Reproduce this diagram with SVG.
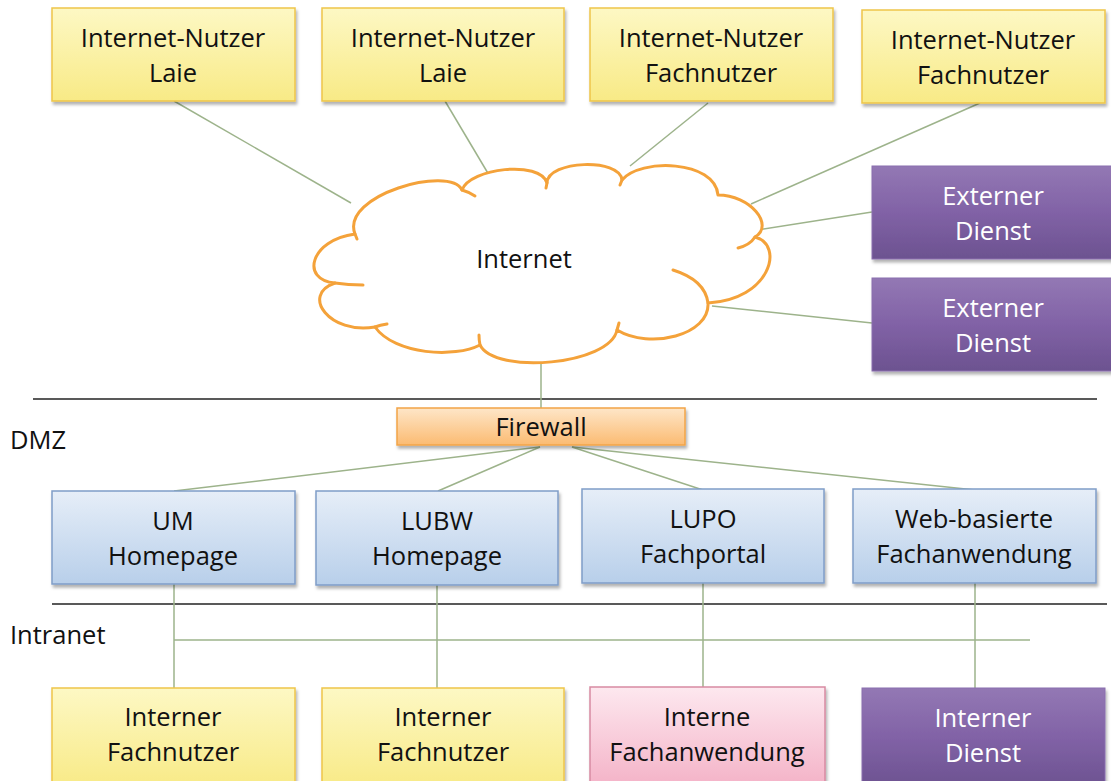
<svg xmlns="http://www.w3.org/2000/svg" width="1111" height="781" viewBox="0 0 1111 781">
<defs>
<linearGradient id="gY" x1="0" y1="0" x2="0" y2="1"><stop offset="0" stop-color="#fdf8c4"/><stop offset="1" stop-color="#f8ea86"/></linearGradient>
<linearGradient id="gP" x1="0" y1="0" x2="0" y2="1"><stop offset="0" stop-color="#9378b4"/><stop offset="0.5" stop-color="#8162a6"/><stop offset="1" stop-color="#6c5290"/></linearGradient>
<linearGradient id="gB" x1="0" y1="0" x2="0" y2="1"><stop offset="0" stop-color="#e6eef8"/><stop offset="1" stop-color="#b8cfea"/></linearGradient>
<linearGradient id="gR" x1="0" y1="0" x2="0" y2="1"><stop offset="0" stop-color="#fde8ef"/><stop offset="1" stop-color="#f4b2c7"/></linearGradient>
<linearGradient id="gO" x1="0" y1="0" x2="0" y2="1"><stop offset="0" stop-color="#fee6c8"/><stop offset="1" stop-color="#fbbb72"/></linearGradient>
<filter id="sh" x="-10%" y="-10%" width="125%" height="140%"><feDropShadow dx="1.5" dy="3" stdDeviation="1.8" flood-color="#000" flood-opacity="0.3"/></filter>
</defs>
<style>
.t{font-family:"Open Sans",Lato,"Liberation Sans",sans-serif;font-size:25.5px;fill:#111;text-anchor:middle}
.w{fill:#fff}
.l{font-family:"Open Sans",Lato,"Liberation Sans",sans-serif;font-size:25.5px;fill:#111}
.y{fill:url(#gY);stroke:#eec54a;stroke-width:1.5;filter:url(#sh)}
.p{fill:url(#gP);stroke:#8a6fae;stroke-width:1;filter:url(#sh)}
.b{fill:url(#gB);stroke:#7f9dc8;stroke-width:1.5;filter:url(#sh)}
.r{fill:url(#gR);stroke:#d78aa2;stroke-width:1.5;filter:url(#sh)}
.o{fill:url(#gO);stroke:#f2a447;stroke-width:1.5;filter:url(#sh)}
.c{stroke:#9db38b;stroke-width:1.5;fill:none}
.k{stroke:#222;stroke-width:1.5}
.cl{fill:none;stroke:#f4a23a;stroke-width:3;stroke-linecap:round}
</style>
<rect width="1111" height="781" fill="#fff"/>
<g id="separators">
<line class="k" x1="33" y1="399" x2="1097" y2="399"/>
<line class="k" x1="52" y1="604" x2="1107" y2="604"/>
<text class="l" x="10" y="449">DMZ</text>
<text class="l" x="10" y="644">Intranet</text>
</g>
<g id="connectors">
<line class="c" x1="174" y1="101" x2="351" y2="203"/>
<line class="c" x1="445" y1="101" x2="489" y2="175"/>
<line class="c" x1="708" y1="103" x2="630" y2="166"/>
<line class="c" x1="980" y1="103" x2="751" y2="204"/>
<line class="c" x1="872" y1="212" x2="751" y2="231"/>
<line class="c" x1="872" y1="323" x2="712" y2="306"/>
<line class="c" x1="541" y1="360" x2="541" y2="408"/>
<line class="c" x1="540" y1="447" x2="174" y2="491"/>
<line class="c" x1="540" y1="447" x2="438" y2="491"/>
<line class="c" x1="572" y1="447" x2="703" y2="490"/>
<line class="c" x1="572" y1="447" x2="975" y2="490"/>
<line class="c" x1="174" y1="584" x2="174" y2="688"/>
<line class="c" x1="437" y1="585" x2="437" y2="688"/>
<line class="c" x1="703" y1="583" x2="703" y2="688"/>
<line class="c" x1="975" y1="583" x2="975" y2="688"/>
<line class="c" x1="174" y1="640" x2="1030" y2="640"/>
</g>
<g id="internet">
<path d="M355,234 C340,195 450,165 462,190 C470,168 540,160 547,183 C548,160 620,158 622,180 C640,158 715,160 718,195 C750,195 775,225 755,237 C785,245 770,300 708,303 C710,335 650,350 617,330 C610,365 495,375 480,345 C455,358 395,355 375,327 C330,335 300,295 335,283 C300,280 310,240 355,234 Z" fill="#fff" stroke="#f4a23a" stroke-width="3" stroke-linejoin="round"/>
<path class="cl" d="M462,190 Q469,192 475,196"/>
<path class="cl" d="M547,183 L546,188"/>
<path class="cl" d="M622,180 L620,185"/>
<path class="cl" d="M755,237 Q750,245 738,248"/>
<path class="cl" d="M673,270 Q705,280 708,303"/>
<path class="cl" d="M617,330 L619,323"/>
<path class="cl" d="M480,345 Q479,340 479,335"/>
<path class="cl" d="M375,327 Q380,325 387,324"/>
<path class="cl" d="M335,283 Q348,285 363,285"/>
<path class="cl" d="M355,234 L357,239"/>
<text class="t" x="524" y="268">Internet</text>
</g>
<g id="nutzer1"><rect class="y" x="52" y="8" width="243" height="93"/><text class="t" x="173" y="47">Internet-Nutzer</text><text class="t" x="173" y="82">Laie</text></g>
<g id="nutzer2"><rect class="y" x="322" y="8" width="242" height="93"/><text class="t" x="443" y="47">Internet-Nutzer</text><text class="t" x="443" y="82">Laie</text></g>
<g id="nutzer3"><rect class="y" x="590" y="8" width="243" height="93"/><text class="t" x="711" y="47">Internet-Nutzer</text><text class="t" x="711" y="82">Fachnutzer</text></g>
<g id="nutzer4"><rect class="y" x="862" y="10" width="243" height="93"/><text class="t" x="983" y="49">Internet-Nutzer</text><text class="t" x="983" y="84">Fachnutzer</text></g>
<g id="extern1"><rect class="p" x="872" y="166" width="245" height="93"/><text class="t w" x="993" y="205">Externer</text><text class="t w" x="993" y="240">Dienst</text></g>
<g id="extern2"><rect class="p" x="872" y="278" width="245" height="93"/><text class="t w" x="993" y="317">Externer</text><text class="t w" x="993" y="352">Dienst</text></g>
<g id="firewall"><rect class="o" x="397" y="408" width="288" height="37"/><text class="t" x="541" y="436">Firewall</text></g>
<g id="um"><rect class="b" x="52" y="491" width="243" height="93"/><text class="t" x="173" y="530">UM</text><text class="t" x="173" y="565">Homepage</text></g>
<g id="lubw"><rect class="b" x="316" y="491" width="242" height="94"/><text class="t" x="437" y="530">LUBW</text><text class="t" x="437" y="565">Homepage</text></g>
<g id="lupo"><rect class="b" x="582" y="489" width="242" height="94"/><text class="t" x="703" y="528">LUPO</text><text class="t" x="703" y="563">Fachportal</text></g>
<g id="web"><rect class="b" x="853" y="489" width="243" height="94"/><text class="t" x="974" y="528">Web-basierte</text><text class="t" x="974" y="563">Fachanwendung</text></g>
<g id="intern1"><rect class="y" x="52" y="688" width="243" height="100"/><text class="t" x="173" y="726">Interner</text><text class="t" x="173" y="761">Fachnutzer</text></g>
<g id="intern2"><rect class="y" x="322" y="688" width="242" height="100"/><text class="t" x="443" y="726">Interner</text><text class="t" x="443" y="761">Fachnutzer</text></g>
<g id="intern3"><rect class="r" x="590" y="687" width="235" height="100"/><text class="t" x="707" y="726">Interne</text><text class="t" x="707" y="761">Fachanwendung</text></g>
<g id="intern4"><rect class="p" x="862" y="688" width="243" height="100"/><text class="t w" x="983" y="727">Interner</text><text class="t w" x="983" y="762">Dienst</text></g>
</svg>
